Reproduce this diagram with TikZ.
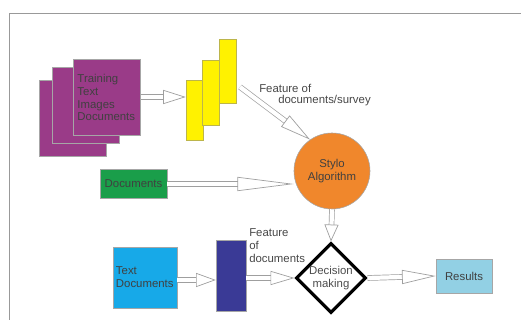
\documentclass[tikz,border=0pt]{standalone}
\usepackage{fontspec}
\setmainfont{Liberation Sans}
\usepackage{tikz}
\usetikzlibrary{arrows.meta,shapes.geometric}

\definecolor{trainpurple}{RGB}{154,59,136}
\definecolor{featyellow}{RGB}{255,242,0}
\definecolor{styloorange}{RGB}{240,135,44}
\definecolor{docgreen}{RGB}{26,158,74}
\definecolor{textcyan}{RGB}{23,169,232}
\definecolor{barnavy}{RGB}{58,58,150}
\definecolor{resblue}{RGB}{146,208,228}
\definecolor{labelgray}{RGB}{70,70,70}

\tikzset{
  box/.style={draw=gray!70, line width=0.4pt, inner sep=2pt},
  fatarrow/.style={draw=gray!75, line width=0.5pt, double=white, double distance=3pt,
    -{Triangle[open, length=#1, width=10pt]}},
  fatarrow/.default=13pt,
  lbl/.style={text=labelgray, inner sep=0pt, align=left}
}

\begin{document}
\begin{tikzpicture}[x=0.025cm, y=-0.025cm, font=\fontsize{8.1}{9.2}\selectfont]
  \useasboundingbox (0,0) rectangle (521,320);
  % draw the frame
  \draw[gray!80, line width=0.6pt] (9,320) -- (9,13) -- (521,13);
  % define the training stack
  \node[box, fill=trainpurple, minimum width=16.75mm, minimum height=19mm] (train3) at (72.5,118) {};
  \node[box, fill=trainpurple, minimum width=16.75mm, minimum height=19mm] (train2) at (86,105) {};
  \node[box, fill=trainpurple, minimum width=16.75mm, minimum height=19mm, text=black!75,
        align=left, text width=14.75mm] (train1) at (107,97.5) {Training\\Text\\Images\\Documents};
  % define the feature bars
  \node[box, fill=featyellow, draw=olive!60, minimum width=4.25mm, minimum height=15mm] (feat1) at (194.5,110) {};
  \node[box, fill=featyellow, draw=olive!60, minimum width=4.25mm, minimum height=16.25mm] (feat2) at (210.5,92.5) {};
  \node[box, fill=featyellow, draw=olive!60, minimum width=4.25mm, minimum height=16mm] (feat3) at (227.5,71) {};
  \coordinate (fstart) at (240,87);
  % define the algorithm and the inputs
  \node[circle, draw=gray!70, fill=styloorange, minimum size=19mm, align=center, text=black!75, inner sep=0pt]
        (stylo) at (332,171) {Stylo\\Algorithm};
  \node[box, fill=docgreen, minimum width=16.75mm, minimum height=7.25mm, text=black!75, inner sep=1pt] (docs) at (133.5,184) {Documents};
  \node[box, fill=textcyan, minimum width=16mm, minimum height=15.25mm, text=black!75,
        align=left, text width=14.5mm] (textdocs) at (145,277.5) {Text\\Documents};
  \node[box, fill=barnavy, minimum width=7.5mm, minimum height=17.75mm] (featbar) at (231,275.5) {};
  \node[diamond, draw=black, line width=2.2pt, fill=white, minimum width=17.5mm, minimum height=17.5mm,
        inner sep=0pt, align=center, text=black!70] (decision) at (331,278) {Decision\\making};
  \node[box, fill=resblue, minimum width=14mm, minimum height=8.5mm, text=black!75] (results) at (464,276) {Results};
  % draw the labels
  \node[lbl, anchor=west] at (259,88) {Feature of};
  \node[lbl, anchor=west] at (278,101) {documents/survey};
  \node[lbl, anchor=west] at (249,246) {Feature\\of\\documents};
  % draw the arrows
  \draw[fatarrow=16pt] (train1.east |- 0,97) -- (feat1.west |- 0,97);
  \draw[fatarrow=22pt] (fstart) -- (stylo.125);
  \draw[fatarrow=40pt] (docs.east) -- (stylo.west |- docs.east);
  \draw[fatarrow=12pt] (stylo.south) -- (decision.north);
  \draw[fatarrow=14pt] (textdocs.east |- 0,280) -- (featbar.west |- 0,280);
  \draw[fatarrow=17pt] (featbar.east |- decision.west) -- (decision.west);
  \draw[fatarrow=24pt] (decision.east) -- (results.west);
\end{tikzpicture}
\end{document}
